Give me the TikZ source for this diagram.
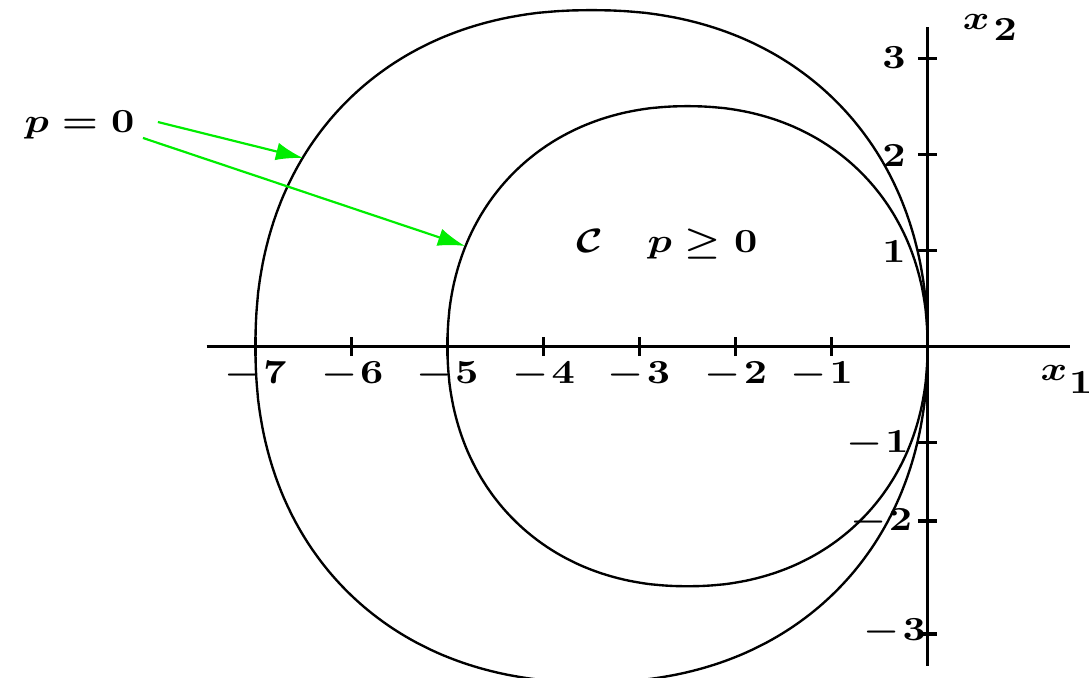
\documentclass[tikz,border=0pt]{standalone}
\usepackage{graphicx}
\usetikzlibrary{arrows.meta}
\definecolor{arrowgreen}{rgb}{0,0.93,0}
\tikzset{
  curve/.style={line width=0.7pt, line join=round},
  axisline/.style={line width=0.95pt},
  tickmark/.style={line width=0.95pt},
  lbl/.style={inner sep=0pt, font=\fontsize{10.2}{12}\selectfont\boldmath},
  garrow/.style={draw=arrowgreen, line width=0.65pt, -{Latex[length=8pt,width=5.3pt]}}
}
\newcommand{\Wide}[1]{\scalebox{1.2}[1]{#1}}
\begin{document}
\begin{tikzpicture}
\useasboundingbox (-9.661,-3.446) rectangle (1.682,3.606);
\clip (-9.661,-3.446) rectangle (1.682,3.606);
% axes
\coordinate (xl) at (-7.51,0); \coordinate (xr) at (1.48,0);
\coordinate (yb) at (0,-3.33); \coordinate (yt) at (0,3.32);
\draw[axisline] (xl) -- (xr);
\draw[axisline] (yb) -- (yt);
\foreach \t in {-7,...,-1} \draw[tickmark] (\t,-0.104) -- (\t,0.094);
\foreach \t in {3,2,1,-1.007,-1.82,-2.998} \draw[tickmark] (-0.1,\t) -- (0.1,\t);
% curves
\draw[curve] plot[domain=0.5:360.5, samples=361, variable=\t]
  ({-3.5+3.5*sign(cos(\t))*pow(abs(cos(\t)),0.915)}, {3.5*sign(sin(\t))*pow(abs(sin(\t)),0.915)}) -- cycle;
\draw[curve] plot[domain=0.5:360.5, samples=361, variable=\t]
  ({-2.5+2.5*sign(cos(\t))*pow(abs(cos(\t)),0.935)}, {2.5*sign(sin(\t))*pow(abs(sin(\t)),0.935)}) -- cycle;
% x tick labels
\node[lbl] (lxm7) at (-7.0,-0.30) {\Wide{$-\mkern1mu7$}};
\node[lbl] (lxm6) at (-5.99,-0.30) {\Wide{$-\mkern1mu6$}};
\node[lbl] (lxm5) at (-5.0,-0.30) {\Wide{$-\mkern1mu5$}};
\node[lbl] (lxm4) at (-3.995,-0.30) {\Wide{$-\mkern1mu4$}};
\node[lbl] (lxm3) at (-3.005,-0.30) {\Wide{$-\mkern1mu3$}};
\node[lbl] (lxm2) at (-1.995,-0.30) {\Wide{$-\mkern1mu2$}};
\node[lbl] (lxm1) at (-1.10,-0.30) {\Wide{$-\mkern1mu1$}};
% y tick labels
\node[lbl] (ly3) at (-0.349,3.002) {\Wide{$3$}};
\node[lbl] (ly2) at (-0.349,1.99) {\Wide{$2$}};
\node[lbl] (ly1) at (-0.349,0.99) {\Wide{$1$}};
\node[lbl] (lym1) at (-0.521,-1.019) {\Wide{$-\mkern1mu1$}};
\node[lbl] (lym2) at (-0.484,-1.831) {\Wide{$-\mkern1mu2$}};
\node[lbl] (lym3) at (-0.339,-2.98) {\Wide{$-\mkern1mu3$}};
% axis names
\node[lbl, anchor=base west] (x2) at (0.36,3.294) {\Wide{$x\kern1pt\lower3pt\hbox{$2$}$}};
\node[lbl, anchor=base west] (x1) at (1.17,-0.352) {\Wide{$x\kern0.5pt\lower4pt\hbox{$1$}$}};
% region labels
\node[lbl, anchor=base] (cal) at (-3.516,0.98) {\Wide{$\mathcal{C}$}};
\node[lbl, anchor=base] (pge) at (-2.344,0.98) {\Wide{$p \geq 0$}};
\node[lbl, anchor=base] (p0) at (-8.833,2.231) {\Wide{$p = 0$}};
% arrows
\coordinate (a1s) at (-8.016,2.335); \coordinate (a1e) at (-6.505,1.960);
\coordinate (a2s) at (-8.172,2.169); \coordinate (a2e) at (-4.818,1.044);
\draw[garrow] (a1s) -- (a1e);
\draw[garrow] (a2s) -- (a2e);
\end{tikzpicture}
\end{document}
